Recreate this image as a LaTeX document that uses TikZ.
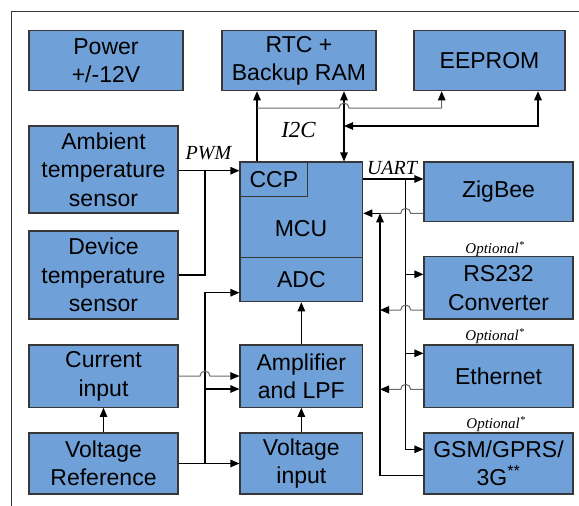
\documentclass[tikz,border=0pt]{standalone}
\usepackage{fontspec}
\setmainfont{Liberation Sans}
\newfontfamily\labelfont{Liberation Serif}
\usetikzlibrary{arrows.meta,calc}
\definecolor{boxblue}{RGB}{112,160,216}
\definecolor{edgegray}{RGB}{55,55,55}
\definecolor{hopgray}{RGB}{105,105,105}
\begin{document}
\begin{tikzpicture}[x=1pt,y=-1pt,
  blk/.style={draw=edgegray, line width=1.1pt, fill=boxblue, inner sep=0pt, align=center,
    font=\fontsize{23}{28.5}\selectfont, text=black},
  wire/.style={line width=1.1pt, draw=black},
  gwire/.style={line width=1pt, draw=hopgray},
  tip/.style={-{Triangle[length=9pt,width=7.5pt,color=black]}},
  dtip/.style={{Triangle[length=9pt,width=7.5pt,color=black]}-{Triangle[length=9pt,width=7.5pt,color=black]}},
  lbl/.style={font=\labelfont\itshape\fontsize{20}{24}\selectfont, inner sep=0pt},
  biglbl/.style={font=\labelfont\itshape\fontsize{23}{26}\selectfont, inner sep=0pt},
  opt/.style={font=\labelfont\itshape\fontsize{15}{18}\selectfont, inner sep=0pt}
]
\useasboundingbox (0,0) rectangle (579,506);

% frame
\draw[line width=1pt, draw=edgegray] (11.7,506) -- (11.7,11.7) -- (579,11.7);

% boxes
\node[blk, minimum width=154pt, minimum height=60pt] (power) at (106,60.7) {Power\\+/-12V};
\node[blk, minimum width=154pt, minimum height=60pt] (rtc) at (299,60.7) {RTC +\\Backup RAM};
\node[blk, minimum width=151pt, minimum height=60pt] (eeprom) at (489.5,60.7) {EEPROM};
\node[blk, minimum width=149pt, minimum height=87pt] (ambient) at (103.5,169.5) {Ambient\\temperature\\sensor};
\node[blk, minimum width=149pt, minimum height=88pt] (device) at (103.5,275) {Device\\temperature\\sensor};
\node[blk, minimum width=122.7pt, minimum height=95.7pt] (mcu) at (301.35,209.85) {};
\node[blk, minimum width=67.7pt, minimum height=34.7pt] (ccp) at (273.85,179.35) {CCP};
\node[font=\fontsize{23}{28.5}\selectfont, inner sep=0pt] (mcutext) at (301,229) {MCU};
\node[blk, minimum width=122.7pt, minimum height=44pt] (adc) at (301.35,279.7) {ADC};
\node[blk, minimum width=149pt, minimum height=59.7pt] (zigbee) at (498.5,191.85) {ZigBee};
\node[blk, minimum width=149pt, minimum height=62.3pt] (rs232) at (498.5,287.85) {RS232\\Converter};
\node[blk, minimum width=149pt, minimum height=62.3pt] (ethernet) at (498.5,376.15) {Ethernet};
\node[blk, minimum width=149pt, minimum height=61pt] (gsm) at (498.5,463.5) {GSM/GPRS/\\3G\textsuperscript{**}};
\node[blk, minimum width=149pt, minimum height=62.3pt] (current) at (103.5,376.15) {Current\\input};
\node[blk, minimum width=122.7pt, minimum height=62.3pt] (amp) at (301.35,376.15) {Amplifier\\and LPF};
\node[blk, minimum width=149pt, minimum height=61pt] (vref) at (103.5,463.5) {Voltage\\Reference};
\node[blk, minimum width=122.7pt, minimum height=61pt] (vin) at (301.35,463.5) {Voltage\\input};

% labels
\node[lbl] (pwm) at (208.5,153) {PWM};
\node[biglbl] (i2c) at (298.5,129.5) {I2C};
\node[lbl] (uart) at (392,167.5) {UART};
\node[opt] (opt1) at (495,249) {Optional\textsuperscript{*}};
\node[opt] (opt2) at (495,336) {Optional\textsuperscript{*}};
\node[opt] (opt3) at (496,424) {Optional\textsuperscript{*}};

% helper coordinates
\coordinate (xa) at (257,0);
\coordinate (xb) at (344,0);
\coordinate (xc) at (441.7,0);
\coordinate (xd) at (538,0);
\coordinate (xj) at (205,0);
\coordinate (xr) at (380,0);
\coordinate (xu) at (405.7,0);
\coordinate (yi) at (0,108);
\coordinate (ye) at (0,126);
\coordinate (ypwm) at (0,170.7);
\coordinate (yb) at (0,389);
\coordinate (yc) at (0,376);
\coordinate (yu) at (0,179);
\coordinate (yg) at (0,449.3);
\coordinate (yrs) at (0,274.3);
\coordinate (yet) at (0,353.3);
\coordinate (ygr) at (0,475.7);
\coordinate (yz) at (0,213.3);
\coordinate (yrr) at (0,310);
\coordinate (yer) at (0,389.3);

% I2C
\draw[wire,tip] (xa |- mcu.north) -- (xa |- rtc.south);
\draw[wire,dtip] (xb |- rtc.south) -- (xb |- mcu.north);
\draw[gwire,tip] (xa |- yi) -- ($(xb |- yi)+(-5,0)$) arc[start angle=180,end angle=0,radius=5pt] -- (xc |- yi) -- (xc |- eeprom.south);
\draw[wire,dtip] (xb |- ye) -| (xd |- eeprom.south);

% PWM
\draw[wire,tip] (ambient.east |- ypwm) -- (mcu.west |- ypwm);
\draw[wire] (device.east) -| (xj |- ypwm);

% analog
\draw[wire,tip] (xj |- vref.east) |- ($(adc.west)+(0,13)$);
\draw[wire,tip] (vref.east) -- (vin.west);
\draw[wire,tip] (xj |- yb) -- (amp.west |- yb);
\draw[gwire,tip] (current.east |- yc) -- ($(xj |- yc)+(-5,0)$) arc[start angle=180,end angle=0,radius=5pt] -- (amp.west |- yc);
\draw[wire,tip] (vref.north) -- (current.south);
\draw[wire,tip] (vin.north) -- (amp.south);
\draw[wire,tip] (amp.north) -- (adc.south);

% UART
\draw[wire,tip] (mcu.east |- yu) -- (zigbee.west |- yu);
\draw[wire,tip] (xu |- yu) |- (gsm.west |- yg);
\draw[wire,tip] (xu |- yrs) -- (rs232.west |- yrs);
\draw[wire,tip] (xu |- yet) -- (ethernet.west |- yet);
\draw[wire,tip] (gsm.west |- ygr) -| (xr |- yz);
\draw[gwire] (zigbee.west |- yz) -- ($(xu |- yz)+(5,0)$) arc[start angle=0,end angle=180,radius=5pt] -- (xr |- yz);
\draw[wire,tip] (xr |- yz) -- (mcu.east |- yz);
\draw[gwire,tip] (rs232.west |- yrr) -- ($(xu |- yrr)+(5,0)$) arc[start angle=0,end angle=180,radius=5pt] -- (xr |- yrr);
\draw[gwire,tip] (ethernet.west |- yer) -- ($(xu |- yer)+(5,0)$) arc[start angle=0,end angle=180,radius=5pt] -- (xr |- yer);
\end{tikzpicture}
\end{document}
